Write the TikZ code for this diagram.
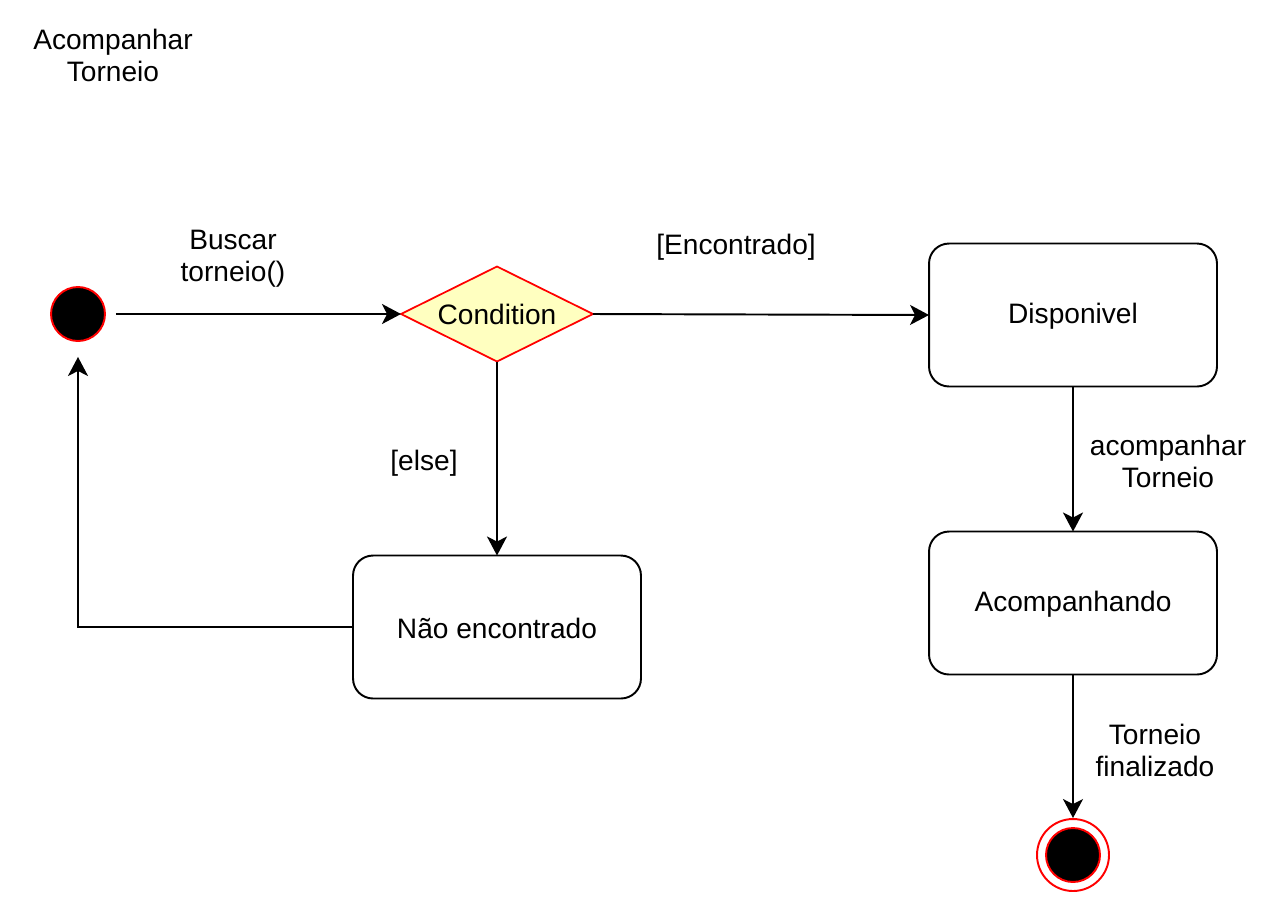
\documentclass[tikz,border=0pt]{standalone}
\usepackage{fontspec}
\setmainfont{Liberation Sans}
\usetikzlibrary{shapes.geometric, arrows.meta, positioning}
\definecolor{condfill}{HTML}{FFFFC0}

\begin{document}
\begin{tikzpicture}[
            x=0.02cm, y=-0.02cm,
            line width=1.1pt,
            every node/.style={align=center, font=\fontsize{16}{18.2}\selectfont},
            state/.style={draw, rounded corners=0.4cm, minimum width=5.76cm, minimum height=2.86cm, outer sep=0pt, text height=2.4ex},
            flow/.style={-{Stealth[length=0.38cm, width=0.4cm, inset=0.1cm]}}
        ]
            \useasboundingbox (0,0) rectangle (1285,921);
            \node (title) at (113,55) {Acompanhar\\Torneio};
            % states
            \node[circle, draw=red, fill=black, minimum size=1.08cm, inner sep=0pt, line width=1.1pt] (start) at (78,314) {};
            \node[diamond, aspect=2, draw=red, fill=condfill, minimum width=3.84cm, minimum height=1.9cm, inner sep=0pt, outer sep=0pt, line width=1pt] (cond) at (497,314) {Condition};
            \node[state] (disp) at (1073,315) {Disponivel};
            \node[state] (nao) at (497,627) {Não encontrado};
            \node[state] (acomp) at (1073,603) {Acompanhando};
            \node[circle, draw=red, fill=white, minimum size=1.44cm, inner sep=0pt, line width=1.1pt] (fim) at (1073,855) {};
            \node[circle, draw=red, fill=black, minimum size=1.08cm, inner sep=0pt, line width=1.1pt] (fimin) at (fim) {};
            % transitions
            \draw[flow, shorten <=0.2cm] (start) -- (cond.west);
            \draw[flow] (cond.east) -- (disp.west);
            \draw[flow] (cond.south) -- (nao.north);
            \draw[flow, shorten >=0.3cm] (nao.west) -| (start.south);
            \draw[flow] (disp.south) -- (acomp.north);
            \draw[flow] (acomp.south) -- (fim.north);
            % labels
            \node (lbusca) at (233,259) {Buscar\\torneio()};
            \node (lenc) at (736,247) {[Encontrado]};
            \node (lelse) at (424,463) {[else]};
            \node (lacomp) at (1168,461) {acompanhar\\Torneio};
            \node (lfim) at (1155,750) {Torneio\\finalizado};
        \end{tikzpicture}
\end{document}
